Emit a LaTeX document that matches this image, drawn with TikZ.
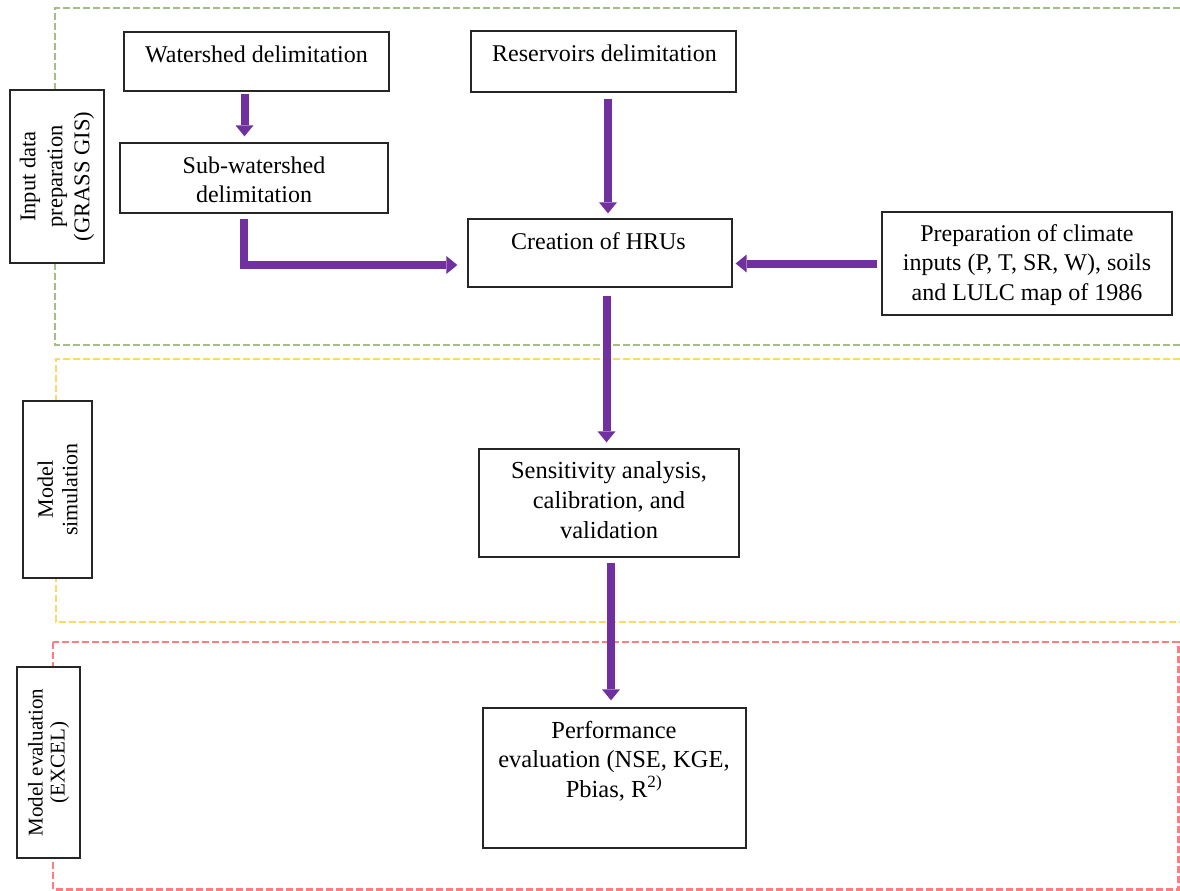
\documentclass[tikz,border=0pt]{standalone}
\usepackage{fontspec}
\setmainfont{Liberation Serif}
\usetikzlibrary{arrows.meta}
\definecolor{pur}{HTML}{7030A0}
\definecolor{gdash}{HTML}{A3BE86}
\definecolor{ydash}{HTML}{FFD966}
\definecolor{rdash}{HTML}{FF7C80}
\newcommand\tb[2]{\parbox[t]{#1}{\centering #2}}
\begin{document}
\begin{tikzpicture}[x=1pt,y=-1pt,
  box/.style={draw=black!85, line width=1.3pt, fill=white, inner sep=0pt},
  txt/.style={inner sep=0pt, anchor=base, font=\fontsize{24}{29.5}\selectfont},
  vtxt/.style={inner sep=0pt, rotate=90},
  zone/.style={line width=2.4pt, dash pattern=on 7pt off 3pt},
  arr/.style={color=pur, line width=8pt, -{Triangle[width=18pt,length=11pt,line width'=0pt]}}
]
\useasboundingbox (0,0) rectangle (1180,891);

% dashed zones
\draw[zone, gdash] (1180,8) -- (55,8) -- (55,345) -- (1180,345);
\draw[zone, ydash] (1180,359) -- (56,359) -- (56,622) -- (1180,622);
\draw[zone, rdash] (53,642) rectangle (1178.5,889.5);

% side label boxes
\node[box, minimum width=94pt, minimum height=173pt] (inbox) at (57,176.5) {};
\node[vtxt, font=\fontsize{22.5}{27}\selectfont] (intxt) at (57,176.5) {\tb{180pt}{Input data\\preparation\\(GRASS GIS)}};
\node[box, minimum width=69pt, minimum height=177pt] (simbox) at (57.5,489.5) {};
\node[vtxt, font=\fontsize{22}{24.5}\selectfont] (simtxt) at (57.5,489.5) {\tb{180pt}{Model\\simulation}};
\node[box, minimum width=63pt, minimum height=191pt] (evbox) at (48.5,762.5) {};
\node[vtxt, font=\fontsize{21}{22}\selectfont] (evtxt) at (48.5,762.5) {\tb{190pt}{Model evaluation\\(EXCEL)}};

% process boxes
\node[box, minimum width=265pt, minimum height=59pt] (ws) at (256.5,61.5) {};
\node[txt] (wst) at (256.5,63) {\tb{260pt}{Watershed delimitation}};
\node[box, minimum width=268pt, minimum height=70pt] (sub) at (254,178) {};
\node[txt] (subt) at (254,173) {\tb{260pt}{Sub-watershed\\delimitation}};
\node[box, minimum width=265pt, minimum height=61pt] (res) at (603.5,61.5) {};
\node[txt] (rest) at (604.5,62) {\tb{260pt}{Reservoirs delimitation}};
\node[box, minimum width=264pt, minimum height=68pt] (hru) at (600,253) {};
\node[txt] (hrut) at (598.5,249) {\tb{260pt}{Creation of HRUs}};
\node[box, minimum width=290pt, minimum height=103pt] (prep) at (1027,263.5) {};
\node[txt] (prept) at (1027,241) {\tb{285pt}{Preparation of climate\\inputs (P, T, SR, W), soils\\and LULC map of 1986}};
\node[box, minimum width=260pt, minimum height=108pt] (sens) at (609,503) {};
\node[txt, font=\fontsize{24.5}{30}\selectfont] (senst) at (609,478) {\tb{255pt}{Sensitivity analysis,\\calibration, and\\validation}};
\node[box, minimum width=263pt, minimum height=140pt] (perf) at (614.5,778) {};
\node[txt, font=\fontsize{24.5}{29.5}\selectfont] (perft) at (614,738) {\tb{255pt}{Performance\\evaluation (NSE, KGE,\\Pbias, R\textsuperscript{2)}}};

% connectors
\draw[arr] ([xshift=-12pt,yshift=-2pt]ws.south) -- ([xshift=-9.5pt,yshift=6pt]sub.north);
\draw[arr] ([xshift=4.5pt,yshift=-6pt]res.south) -- ([xshift=8pt,yshift=5pt]hru.north);
\draw[arr] ([xshift=-10pt,yshift=-5pt]sub.south) |- ([xshift=-10pt,yshift=-12pt]hru.west);
\draw[arr] ([xshift=-4pt]prep.west) -- ([xshift=3pt,yshift=-10.5pt]hru.east);
\draw[arr] ([xshift=6.5pt,yshift=-8pt]hru.south) -- ([xshift=-2.5pt,yshift=6pt]sens.north);
\draw[arr] ([xshift=2pt,yshift=-5pt]sens.south) -- ([xshift=-3.5pt,yshift=7pt]perf.north);
\end{tikzpicture}
\end{document}
